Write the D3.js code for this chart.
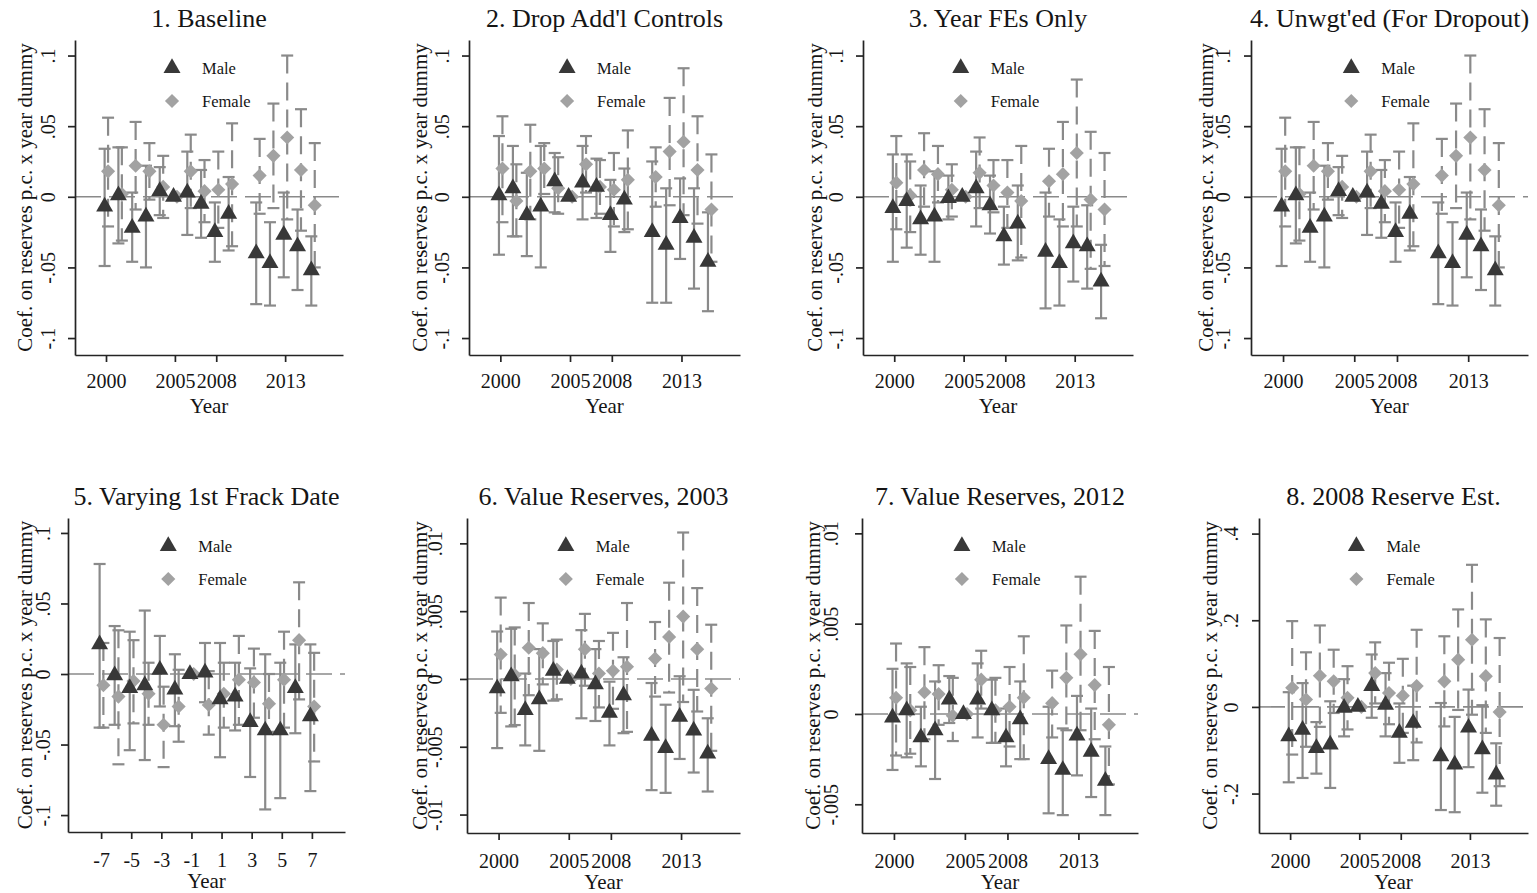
<!DOCTYPE html>
<html lang="en">

<head>
    <meta charset="UTF-8">
    <title>Coefficients on reserves p.c. x year dummy</title>
    <script src="https://cdnjs.cloudflare.com/ajax/libs/d3/7.8.5/d3.min.js"></script>
</head>
<style>
body {
    margin: 0;
    background: #fff;
}

svg text {
    font-family: "Liberation Serif", "DejaVu Serif", serif;
    fill: #151515;
}
</style>

<body>
    <svg id="chart" width="1537" height="893"></svg>
</body>
<script>
// x values
var years = [2000, 2001, 2002, 2003, 2004, 2005, 2006, 2007, 2008, 2009, 2011, 2012, 2013, 2014, 2015];
var relYears = [-7, -6, -5, -4, -3, -2, -1, 0, 1, 2, 3, 4, 5, 6, 7];

// tick values and labels
var yearTicks = [2000, 2005, 2008, 2013];
var relTicks = [-7, -5, -3, -1, 1, 3, 5, 7];
var coefTicks = [-0.1, -0.05, 0, 0.05, 0.1];
var coefLabels = ['-.1', '-.05', '0', '.05', '.1'];
var valueTicks = [-0.01, -0.005, 0, 0.005, 0.01];
var valueLabels = ['-.01', '-.005', '0', '.005', '.01'];
var value12Ticks = [-0.005, 0, 0.005, 0.01];
var value12Labels = ['-.005', '0', '.005', '.01'];
var est08Ticks = [-0.2, 0, 0.2, 0.4];
var est08Labels = ['-.2', '0', '.2', '.4'];

// [estimate, lower, upper] per year
var p1Male = [[-0.007, -0.049, 0.034], [0.001, -0.033, 0.035], [-0.022, -0.046, 0.003], [-0.014, -0.050, 0.022], [0.004, -0.013, 0.021],
    [0, 0, 0], [0.003, -0.027, 0.032], [-0.005, -0.029, 0.019], [-0.025, -0.046, -0.004], [-0.012, -0.038, 0.014],
    [-0.040, -0.076, -0.004], [-0.047, -0.077, -0.018], [-0.027, -0.057, 0.003], [-0.035, -0.066, -0.009], [-0.052, -0.077, -0.028]];
var p1Female = [[0.018, -0.021, 0.056], [0.002, -0.031, 0.035], [0.022, -0.009, 0.053], [0.018, -0.002, 0.038], [0.007, -0.015, 0.029],
    [0, 0, 0], [0.018, -0.008, 0.044], [0.004, -0.018, 0.026], [0.005, -0.022, 0.032], [0.009, -0.035, 0.052],
    [0.015, -0.012, 0.041], [0.029, -0.008, 0.066], [0.042, -0.016, 0.100], [0.019, -0.024, 0.062], [-0.006, -0.050, 0.038]];

var p2Male = [[0.001, -0.041, 0.043], [0.006, -0.028, 0.036], [-0.013, -0.042, 0.017], [-0.007, -0.050, 0.036], [0.011, -0.011, 0.031],
    [0, 0, 0], [0.010, -0.016, 0.036], [0.007, -0.015, 0.027], [-0.013, -0.039, 0.012], [-0.002, -0.025, 0.020],
    [-0.025, -0.075, 0.025], [-0.034, -0.075, 0.006], [-0.015, -0.044, 0.013], [-0.029, -0.065, 0.006], [-0.046, -0.081, -0.011]];
var p2Female = [[0.020, -0.018, 0.057], [-0.003, -0.028, 0.023], [0.018, -0.016, 0.051], [0.020, 0.002, 0.038], [0.006, -0.012, 0.028],
    [0, 0, 0], [0.023, 0.003, 0.043], [0.007, -0.012, 0.026], [0.005, -0.021, 0.031], [0.012, -0.023, 0.047],
    [0.014, -0.007, 0.035], [0.032, -0.006, 0.070], [0.039, -0.013, 0.091], [0.019, -0.019, 0.057], [-0.009, -0.046, 0.030]];

var p3Male = [[-0.008, -0.046, 0.030], [-0.003, -0.036, 0.030], [-0.016, -0.041, 0.008], [-0.014, -0.046, 0.018], [-0.001, -0.016, 0.015],
    [0, 0, 0], [0.006, -0.021, 0.032], [-0.006, -0.026, 0.015], [-0.028, -0.048, -0.007], [-0.019, -0.045, 0.008],
    [-0.039, -0.079, 0.003], [-0.047, -0.077, -0.016], [-0.033, -0.060, -0.007], [-0.035, -0.065, -0.006], [-0.060, -0.086, -0.034]];
var p3Female = [[0.010, -0.023, 0.043], [0.001, -0.025, 0.025], [0.019, -0.007, 0.045], [0.016, -0.004, 0.036], [0.005, -0.014, 0.023],
    [0, 0, 0], [0.017, -0.008, 0.042], [0.008, -0.011, 0.026], [0.003, -0.022, 0.026], [-0.003, -0.043, 0.036],
    [0.011, -0.014, 0.034], [0.016, -0.021, 0.053], [0.031, -0.021, 0.083], [-0.002, -0.051, 0.046], [-0.009, -0.049, 0.031]];

var p4Male = [[-0.007, -0.049, 0.034], [0.001, -0.033, 0.035], [-0.022, -0.046, 0.003], [-0.014, -0.050, 0.022], [0.004, -0.013, 0.021],
    [0, 0, 0], [0.003, -0.027, 0.032], [-0.005, -0.029, 0.019], [-0.025, -0.046, -0.004], [-0.012, -0.038, 0.014],
    [-0.040, -0.076, -0.004], [-0.047, -0.077, -0.018], [-0.027, -0.057, 0.003], [-0.035, -0.066, -0.009], [-0.052, -0.077, -0.028]];
var p4Female = [[0.018, -0.021, 0.056], [0.002, -0.031, 0.035], [0.022, -0.009, 0.053], [0.018, -0.002, 0.038], [0.007, -0.015, 0.029],
    [0, 0, 0], [0.018, -0.008, 0.044], [0.004, -0.018, 0.026], [0.005, -0.022, 0.032], [0.009, -0.035, 0.052],
    [0.015, -0.012, 0.041], [0.029, -0.008, 0.066], [0.042, -0.016, 0.100], [0.019, -0.024, 0.062], [-0.006, -0.050, 0.038]];

var p5Male = [[0.021, -0.038, 0.078], [-0.001, -0.036, 0.034], [-0.010, -0.054, 0.030], [-0.008, -0.061, 0.045], [0.003, -0.023, 0.027],
    [-0.011, -0.037, 0.014], [0, 0, 0], [0.001, -0.020, 0.022], [-0.018, -0.059, 0.022], [-0.016, -0.040, 0.008],
    [-0.034, -0.073, 0.004], [-0.040, -0.096, 0.014], [-0.040, -0.088, 0.008], [-0.010, -0.042, 0.021], [-0.030, -0.083, 0.021]];
var p5Female = [[-0.008, -0.038, 0.022], [-0.016, -0.064, 0.031], [-0.005, -0.035, 0.024], [-0.014, -0.036, 0.008], [-0.036, -0.066, -0.009],
    [-0.023, -0.048, 0.003], [0, 0, 0], [-0.022, -0.043, 0.002], [-0.014, -0.038, 0.008], [-0.004, -0.036, 0.027],
    [-0.006, -0.031, 0.018], [-0.021, -0.041, 0.000], [-0.004, -0.038, 0.030], [0.024, -0.018, 0.065], [-0.023, -0.062, 0.015]];

var p6Male = [[-0.0007, -0.0051, 0.0035], [0.0002, -0.0035, 0.0037], [-0.0023, -0.0049, 0.0004], [-0.0015, -0.0053, 0.0022], [0.0006, -0.0016, 0.0028],
    [0, 0, 0], [0.0004, -0.0029, 0.0036], [-0.0004, -0.0031, 0.0022], [-0.0025, -0.0049, -0.0002], [-0.0012, -0.0040, 0.0016],
    [-0.0042, -0.0082, -0.0003], [-0.0051, -0.0084, -0.0019], [-0.0028, -0.0059, 0.0002], [-0.0038, -0.0069, -0.0008], [-0.0055, -0.0083, -0.0029]];
var p6Female = [[0.0018, -0.0025, 0.0060], [0.0003, -0.0034, 0.0038], [0.0023, -0.0012, 0.0056], [0.0019, -0.0004, 0.0041], [0.0007, -0.0015, 0.0029],
    [0, 0, 0], [0.0022, -0.0005, 0.0048], [0.0004, -0.0021, 0.0028], [0.0006, -0.0022, 0.0034], [0.0009, -0.0039, 0.0056],
    [0.0015, -0.0013, 0.0042], [0.0031, -0.0010, 0.0071], [0.0046, -0.0017, 0.0108], [0.0022, -0.0024, 0.0067], [-0.0007, -0.0053, 0.0040]];

var p7Male = [[-0.0002, -0.0031, 0.0025], [0.0002, -0.0024, 0.0028], [-0.0013, -0.0029, 0.0004], [-0.0009, -0.0036, 0.0018], [0.0008, -0.0005, 0.0021],
    [0, 0, 0], [0.0008, -0.0013, 0.0028], [0.0002, -0.0016, 0.0019], [-0.0013, -0.0029, 0.0003], [-0.0003, -0.0025, 0.0018],
    [-0.0025, -0.0055, 0.0004], [-0.0031, -0.0056, -0.0008], [-0.0012, -0.0034, 0.0010], [-0.0021, -0.0046, 0.0003], [-0.0037, -0.0056, -0.0018]];
var p7Female = [[0.0009, -0.0023, 0.0039], [0.0002, -0.0022, 0.0026], [0.0012, -0.0014, 0.0037], [0.0011, -0.0006, 0.0027], [-0.0001, -0.0015, 0.0020],
    [0, 0, 0], [0.0019, 0.0003, 0.0035], [0.0002, -0.0016, 0.0020], [0.0004, -0.0018, 0.0026], [0.0009, -0.0025, 0.0043],
    [0.0006, -0.0013, 0.0024], [0.0020, -0.0009, 0.0049], [0.0033, -0.0009, 0.0076], [0.0016, -0.0014, 0.0046], [-0.0006, -0.0039, 0.0026]];

var p8Male = [[-0.068, -0.174, 0.034], [-0.053, -0.164, 0.055], [-0.095, -0.154, -0.035], [-0.087, -0.187, 0.013], [-0.002, -0.068, 0.064],
    [0, 0, 0], [0.048, -0.025, 0.121], [0.005, -0.068, 0.078], [-0.060, -0.129, 0.008], [-0.037, -0.123, 0.049],
    [-0.114, -0.238, 0.009], [-0.133, -0.243, -0.023], [-0.048, -0.139, 0.040], [-0.098, -0.198, 0.004], [-0.156, -0.228, -0.084]];
var p8Female = [[0.044, -0.110, 0.198], [0.017, -0.092, 0.126], [0.072, -0.046, 0.188], [0.059, -0.014, 0.132], [0.021, -0.052, 0.094],
    [0, 0, 0], [0.078, 0.008, 0.149], [0.032, -0.040, 0.102], [0.026, -0.060, 0.111], [0.048, -0.082, 0.178],
    [0.059, -0.045, 0.163], [0.109, -0.007, 0.225], [0.155, -0.018, 0.328], [0.071, -0.060, 0.202], [-0.012, -0.183, 0.159]];

var yearDomain = [1997.75, 2017.2];
var relDomain = [-9.2, 9.2];
var yTitle = 'Coef. on reserves p.c. x year dummy';

// box = [left, right, top, bottom] of the plot region
var panels = [
    { title: '1. Baseline', xs: years, xTicks: yearTicks, xDomain: yearDomain, male: p1Male, female: p1Female,
      yDomain: [-0.112, 0.111], yTicks: coefTicks, yLabels: coefLabels, box: [75, 343, 40, 355], tickOff: 20, titleOff: 43 },
    { title: "2. Drop Add'l Controls", xs: years, xTicks: yearTicks, xDomain: yearDomain, male: p2Male, female: p2Female,
      yDomain: [-0.112, 0.111], yTicks: coefTicks, yLabels: coefLabels, box: [469, 740, 40, 355], tickOff: 20, titleOff: 42 },
    { title: '3. Year FEs Only', xs: years, xTicks: yearTicks, xDomain: yearDomain, male: p3Male, female: p3Female,
      yDomain: [-0.112, 0.111], yTicks: coefTicks, yLabels: coefLabels, box: [863, 1133, 40, 355], tickOff: 20, titleOff: 41 },
    { title: "4. Unwgt'ed (For Dropout)", xs: years, xTicks: yearTicks, xDomain: yearDomain, male: p4Male, female: p4Female,
      yDomain: [-0.112, 0.111], yTicks: coefTicks, yLabels: coefLabels, box: [1251, 1528, 40, 355], tickOff: 21, titleOff: 38 },
    { title: '5. Varying 1st Frack Date', xs: relYears, xTicks: relTicks, xDomain: relDomain, male: p5Male, female: p5Female,
      yDomain: [-0.112, 0.1106], yTicks: coefTicks, yLabels: coefLabels, box: [68, 345, 518, 832], tickOff: 18, titleOff: 36 },
    { title: '6. Value Reserves, 2003', xs: years, xTicks: yearTicks, xDomain: yearDomain, male: p6Male, female: p6Female,
      yDomain: [-0.01136, 0.01187], yTicks: valueTicks, yLabels: valueLabels, box: [467, 740, 518, 833], tickOff: 25, titleOff: 40 },
    { title: '7. Value Reserves, 2012', xs: years, xTicks: yearTicks, xDomain: yearDomain, male: p7Male, female: p7Female,
      yDomain: [-0.00659, 0.01085], yTicks: value12Ticks, yLabels: value12Labels, box: [862, 1138, 518, 833], tickOff: 24, titleOff: 42 },
    { title: '8. 2008 Reserve Est.', xs: years, xTicks: yearTicks, xDomain: yearDomain, male: p8Male, female: p8Female,
      yDomain: [-0.291, 0.436], yTicks: est08Ticks, yLabels: est08Labels, box: [1259, 1528, 518, 833], tickOff: 21, titleOff: 42 }
];

var svg = d3.select('#chart');
var barColor = '#8a8a8a';
var maleColor = '#383838';
var femaleColor = '#a2a2a2';
var triangle = d3.symbol().type(d3.symbolTriangle).size(125);
var diamond = d3.symbol().type(d3.symbolSquare).size(100);

function drawBars(g, xs, rows, x, y, shift, dash) {
    var pts = rows.map(function(r, i) {
        return { x: x(xs[i] + shift), lo: y(r[1]), hi: y(r[2]) };
    }).filter(function(d) {
        return Math.abs(d.lo - d.hi) > 0.5;
    });
    var bars = g.append('g').attr('stroke', barColor).attr('stroke-width', 2.2).attr('fill', 'none');
    bars.selectAll('line.stem')
        .data(pts)
        .enter()
        .append('line')
        .attr('class', 'stem')
        .attr('x1', function(d) { return d.x; })
        .attr('x2', function(d) { return d.x; })
        .attr('y1', function(d) { return d.hi; })
        .attr('y2', function(d) { return d.lo; })
        .attr('stroke-dasharray', dash);
    ['hi', 'lo'].forEach(function(k) {
        bars.selectAll('line.cap-' + k)
            .data(pts)
            .enter()
            .append('line')
            .attr('class', 'cap-' + k)
            .attr('x1', function(d) { return d.x - 6; })
            .attr('x2', function(d) { return d.x + 6; })
            .attr('y1', function(d) { return d[k]; })
            .attr('y2', function(d) { return d[k]; });
    });
}

function drawMarks(g, xs, rows, x, y, shift, sym, color, rot) {
    g.append('g')
        .selectAll('path')
        .data(rows)
        .enter()
        .append('path')
        .attr('d', sym)
        .attr('fill', color)
        .attr('transform', function(d, i) {
            return 'translate(' + x(xs[i] + shift) + ',' + y(d[0]) + ')' + (rot ? ' rotate(45)' : '');
        });
}

panels.forEach(function(p) {
    var left = p.box[0], right = p.box[1], top = p.box[2], bottom = p.box[3];
    var cx = (left + right) / 2;
    var row2 = top > 300;
    var x = d3.scaleLinear().domain(p.xDomain).range([left, right]);
    var y = d3.scaleLinear().domain(p.yDomain).range([bottom, top]);
    var g = svg.append('g');

    // zero reference line
    g.append('line')
        .attr('x1', left).attr('x2', right)
        .attr('y1', y(0)).attr('y2', y(0))
        .attr('stroke', barColor)
        .attr('stroke-width', 1.6)
        .attr('stroke-dasharray', '26,8');

    drawBars(g, p.xs, p.male, x, y, -0.1, null);
    drawBars(g, p.xs, p.female, x, y, 0.15, '18,9');
    drawMarks(g, p.xs, p.female, x, y, 0.15, diamond, femaleColor, true);
    drawMarks(g, p.xs, p.male, x, y, -0.1, triangle, maleColor, false);

    // axes
    var yAxis = g.append('g')
        .attr('transform', 'translate(' + left + ',0)')
        .call(d3.axisLeft(y).tickValues(p.yTicks).tickSize(7).tickSizeOuter(0)
            .tickFormat(function(d) { return p.yLabels[p.yTicks.indexOf(d)]; }));
    yAxis.selectAll('text')
        .attr('transform', 'rotate(-90)')
        .attr('x', 0)
        .attr('y', -p.tickOff)
        .attr('dy', 0)
        .attr('text-anchor', 'middle');

    // plain hyphen for negatives, as in the original
    var xAxis = g.append('g')
        .attr('transform', 'translate(0,' + bottom + ')')
        .call(d3.axisBottom(x).tickValues(p.xTicks).tickSize(7).tickSizeOuter(0)
            .tickFormat(function(d) { return String(d); }));
    xAxis.selectAll('text')
        .attr('y', row2 ? 35 : 33)
        .attr('dy', 0);

    g.selectAll('.domain, .tick line')
        .attr('stroke', '#242424')
        .attr('stroke-width', 1.7);
    g.selectAll('.tick text')
        .attr('font-size', 20)
        .attr('font-family', '"Liberation Serif", serif');

    // titles
    g.append('text')
        .attr('x', cx)
        .attr('y', top - 13)
        .attr('text-anchor', 'middle')
        .attr('font-size', 26)
        .text(p.title);
    g.append('text')
        .attr('x', cx)
        .attr('y', bottom + (row2 ? 56 : 58))
        .attr('text-anchor', 'middle')
        .attr('font-size', 21)
        .text('Year');
    g.append('text')
        .attr('transform', 'translate(' + (left - p.titleOff) + ',' + ((top + bottom) / 2) + ') rotate(-90)')
        .attr('text-anchor', 'middle')
        .attr('font-size', 21)
        .text(yTitle);

    // legend
    var lx = left + 0.362 * (right - left);
    g.append('path')
        .attr('d', triangle)
        .attr('fill', maleColor)
        .attr('transform', 'translate(' + lx + ',' + (top + 28) + ')');
    g.append('path')
        .attr('d', diamond)
        .attr('fill', femaleColor)
        .attr('transform', 'translate(' + lx + ',' + (top + 61) + ') rotate(45)');
    g.append('text')
        .attr('x', lx + 30)
        .attr('y', top + 34)
        .attr('font-size', 16.5)
        .text('Male');
    g.append('text')
        .attr('x', lx + 30)
        .attr('y', top + 67)
        .attr('font-size', 16.5)
        .text('Female');
});
</script>

</html>
